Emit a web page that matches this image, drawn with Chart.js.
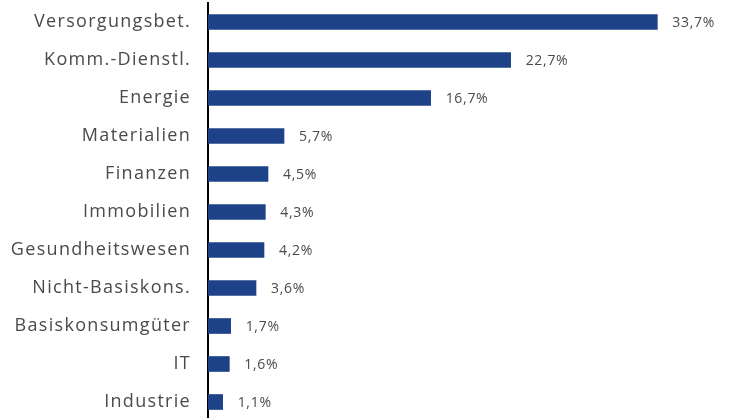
<!DOCTYPE html>
<html>
<head>
<meta charset="utf-8">
<script src="https://cdn.jsdelivr.net/npm/chart.js@4.4.1/dist/chart.umd.min.js"></script>
<style>
html,body{margin:0;padding:0;overflow:hidden;background:#fff;}
canvas{display:block;}
</style>
</head>
<body>
<canvas id="c" width="732" height="421"></canvas>
<script>
const categories = ["Versorgungsbet.","Komm.-Dienstl.","Energie","Materialien","Finanzen","Immobilien","Gesundheitswesen","Nicht-Basiskons.","Basiskonsumgüter","IT","Industrie"];
const values = [33.7,22.7,16.7,5.7,4.5,4.3,4.2,3.6,1.7,1.6,1.1];

const FONT = "'Open Sans', sans-serif";

const spacing = {
  id: 'spacing',
  beforeDraw(chart) { chart.ctx.letterSpacing = '1.3px'; }
};

const valueLabels = {
  id: 'valueLabels',
  afterDatasetsDraw(chart) {
    const ctx = chart.ctx;
    const meta = chart.getDatasetMeta(0);
    ctx.save();
    ctx.letterSpacing = '0.7px';
    ctx.font = "14px " + FONT;
    ctx.fillStyle = "#4a4a4a";
    ctx.textBaseline = "middle";
    ctx.textAlign = "left";
    meta.data.forEach((bar, i) => {
      const txt = values[i].toFixed(1).replace('.', ',') + '%';
      ctx.fillText(txt, bar.x + 15, bar.y + 1);
    });
    ctx.restore();
  }
};

new Chart(document.getElementById('c'), {
  type: 'bar',
  data: {
    labels: categories,
    datasets: [{
      data: values,
      backgroundColor: '#1e4288',
      barThickness: 15
    }]
  },
  options: {
    indexAxis: 'y',
    responsive: false,
    animation: false,
    layout: { padding: { top: 3, right: 4, bottom: 0, left: 0 } },
    plugins: { legend: { display: false }, tooltip: { enabled: false } },
    scales: {
      x: { display: false, min: 0, max: 39 },
      y: {
        grid: { display: false },
        border: { display: true, color: '#000', width: 2 },
        ticks: { color: '#4a4a4a', font: { family: FONT, size: 18 }, padding: 9 },
        afterFit(scale) { scale.width = 208; scale.paddingTop = 0; scale.paddingBottom = 0; }
      }
    }
  },
  plugins: [spacing, valueLabels]
});
</script>
</body>
</html>
